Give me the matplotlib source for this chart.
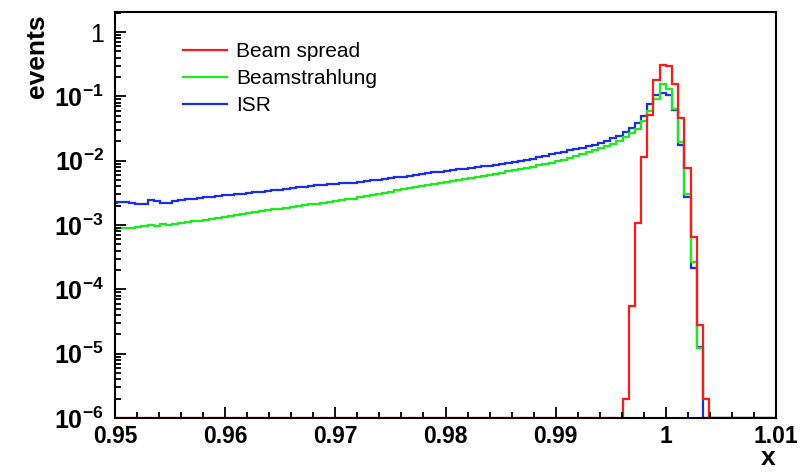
import numpy as np
import matplotlib
matplotlib.use('Agg')
import matplotlib.pyplot as plt
from matplotlib.ticker import MultipleLocator, FixedLocator, FuncFormatter

plt.rcParams['font.family'] = ['Liberation Sans', 'DejaVu Sans']
plt.rcParams['mathtext.fontset'] = 'custom'
plt.rcParams['mathtext.rm'] = 'Liberation Sans:bold'
plt.rcParams['mathtext.bf'] = 'Liberation Sans:bold'
plt.rcParams['mathtext.it'] = 'Liberation Sans:bold'

# binning: edges around x = 1, bin width read from the red steps
bin_width = 0.00056
bin_index = np.arange(-90, 19)
edges = 1.0 + bin_width * bin_index
nbins = len(edges) - 1

# bin contents, first bin index (relative to x = 1) given for each series
red_first = -7
red_vals = [2.0e-6, 5.5e-5, 1.09e-3, 1.13e-2, 5.2e-2, 1.81e-1, 3.1e-1,
            3.0e-1, 1.57e-1, 4.57e-2, 7.6e-3, 6.6e-4, 2.75e-5, 2.0e-6]

blue_first = -90
blue_vals = [2.20e-3, 2.24e-3, 2.26e-3, 2.22e-3, 2.14e-3, 2.12e-3, 2.42e-3, 2.40e-3,
             2.18e-3, 2.20e-3, 2.38e-3, 2.44e-3, 2.50e-3, 2.56e-3, 2.62e-3, 2.68e-3,
             2.74e-3, 2.82e-3, 2.88e-3, 2.96e-3, 3.03e-3, 3.08e-3, 3.15e-3, 3.22e-3,
             3.30e-3, 3.38e-3, 3.46e-3, 3.55e-3, 3.64e-3, 3.74e-3, 3.85e-3, 3.95e-3,
             4.05e-3, 4.12e-3, 4.22e-3, 4.30e-3, 4.38e-3, 4.45e-3, 4.52e-3, 4.58e-3,
             4.70e-3, 4.85e-3, 4.98e-3, 5.10e-3, 5.25e-3, 5.38e-3, 5.52e-3, 5.68e-3,
             5.85e-3, 6.02e-3, 6.20e-3, 6.40e-3, 6.58e-3, 6.78e-3, 6.95e-3, 7.15e-3,
             7.35e-3, 7.55e-3, 7.75e-3, 7.98e-3, 8.20e-3, 8.40e-3, 8.70e-3, 9.00e-3,
             9.35e-3, 9.70e-3, 1.00e-2, 1.04e-2, 1.08e-2, 1.13e-2, 1.19e-2, 1.26e-2,
             1.32e-2, 1.39e-2, 1.46e-2, 1.52e-2, 1.60e-2, 1.68e-2, 1.76e-2, 1.90e-2,
             2.05e-2, 2.22e-2, 2.45e-2, 2.75e-2, 3.20e-2, 3.90e-2, 5.00e-2, 7.50e-2,
             1.05e-1, 1.13e-1, 1.05e-1, 6.2e-2, 1.76e-2, 2.75e-3, 2.18e-4, 1.26e-5]

green_first = -90
green_vals = [8.80e-4, 8.85e-4, 9.00e-4, 9.10e-4, 9.20e-4, 9.80e-4, 1.01e-3, 9.60e-4,
              1.02e-3, 1.01e-3, 1.04e-3, 1.08e-3, 1.11e-3, 1.14e-3, 1.17e-3, 1.21e-3,
              1.25e-3, 1.30e-3, 1.35e-3, 1.39e-3, 1.43e-3, 1.48e-3, 1.53e-3, 1.58e-3,
              1.64e-3, 1.70e-3, 1.75e-3, 1.80e-3, 1.86e-3, 1.92e-3, 1.99e-3, 2.05e-3,
              2.10e-3, 2.16e-3, 2.22e-3, 2.28e-3, 2.34e-3, 2.42e-3, 2.50e-3, 2.58e-3,
              2.68e-3, 2.80e-3, 2.92e-3, 3.05e-3, 3.18e-3, 3.32e-3, 3.45e-3, 3.58e-3,
              3.72e-3, 3.88e-3, 4.05e-3, 4.20e-3, 4.35e-3, 4.52e-3, 4.68e-3, 4.85e-3,
              5.02e-3, 5.20e-3, 5.40e-3, 5.60e-3, 5.80e-3, 6.00e-3, 6.25e-3, 6.50e-3,
              6.80e-3, 7.05e-3, 7.35e-3, 7.70e-3, 8.10e-3, 8.50e-3, 8.90e-3, 9.30e-3,
              9.80e-3, 1.04e-2, 1.11e-2, 1.18e-2, 1.26e-2, 1.35e-2, 1.45e-2, 1.57e-2,
              1.70e-2, 1.85e-2, 2.05e-2, 2.30e-2, 2.70e-2, 3.10e-2, 4.20e-2, 6.00e-2,
              9.00e-2, 1.57e-1, 1.31e-1, 6.4e-2, 1.93e-2, 3.0e-3, 2.67e-4, 1.23e-5,
              2.0e-6]

labels = ['Beam spread', 'Beamstrahlung', 'ISR']
colors = ['#ff1a1a', '#1aee1a', '#1a2ee6']

ymin, ymax = 1e-6, 2.05


def full(first, vals):
    h = np.zeros(nbins)
    i0 = first - bin_index[0]
    h[i0:i0 + len(vals)] = vals
    return h


series = [full(red_first, red_vals), full(green_first, green_vals), full(blue_first, blue_vals)]

fig = plt.figure(figsize=(8.02, 4.72), dpi=100)
ax = fig.add_axes([115 / 802, 1 - 418 / 472, 661 / 802, 406 / 472])

# blue drawn first, red on top
handles = [None] * 3
for i in [2, 1, 0]:
    h = np.clip(series[i], ymin, None)
    handles[i] = ax.stairs(h, edges, color=colors[i], lw=1.6, baseline=None, label=labels[i])

ax.set_yscale('log')
ax.set_xlim(0.95, 1.01)
ax.set_ylim(ymin, ymax)

ax.xaxis.set_major_locator(MultipleLocator(0.01))
ax.xaxis.set_minor_locator(MultipleLocator(0.002))
ax.xaxis.set_major_formatter(FuncFormatter(lambda v, p: '%g' % round(v, 4)))
ax.yaxis.set_major_locator(FixedLocator([1e-6, 1e-5, 1e-4, 1e-3, 1e-2, 1e-1, 1]))
ax.yaxis.set_major_formatter(FuncFormatter(
    lambda v, p: '1' if abs(v - 1) < 1e-9 else r'$10^{%d}$' % round(np.log10(v))))

ax.tick_params(which='both', direction='in', top=False, right=False, width=1.3)
ax.tick_params(which='major', length=8)
ax.tick_params(which='minor', length=4)
ax.tick_params(axis='x', labelsize=16.5, pad=5)
ax.tick_params(axis='y', labelsize=18, pad=8)
for lab in ax.get_xticklabels():
    lab.set_fontweight('bold')
for s in ax.spines.values():
    s.set_linewidth(1.5)

fig.text(768 / 802, 1 - 458 / 472, 'x', fontsize=19, fontweight='bold', ha='center', va='center')
fig.text(37 / 802, 1 - 14 / 472, 'events', fontsize=19, fontweight='bold', rotation=90,
         ha='center', va='top')

leg = ax.legend(handles, labels, loc='upper left', bbox_to_anchor=(0.103, 0.925), frameon=False,
                fontsize=15, handlelength=2.1, handletextpad=0.45, labelspacing=0.38,
                borderpad=0, borderaxespad=0)
for line in leg.get_lines():
    line.set_linewidth(1.6)

fig.savefig('out.png', dpi=100)
